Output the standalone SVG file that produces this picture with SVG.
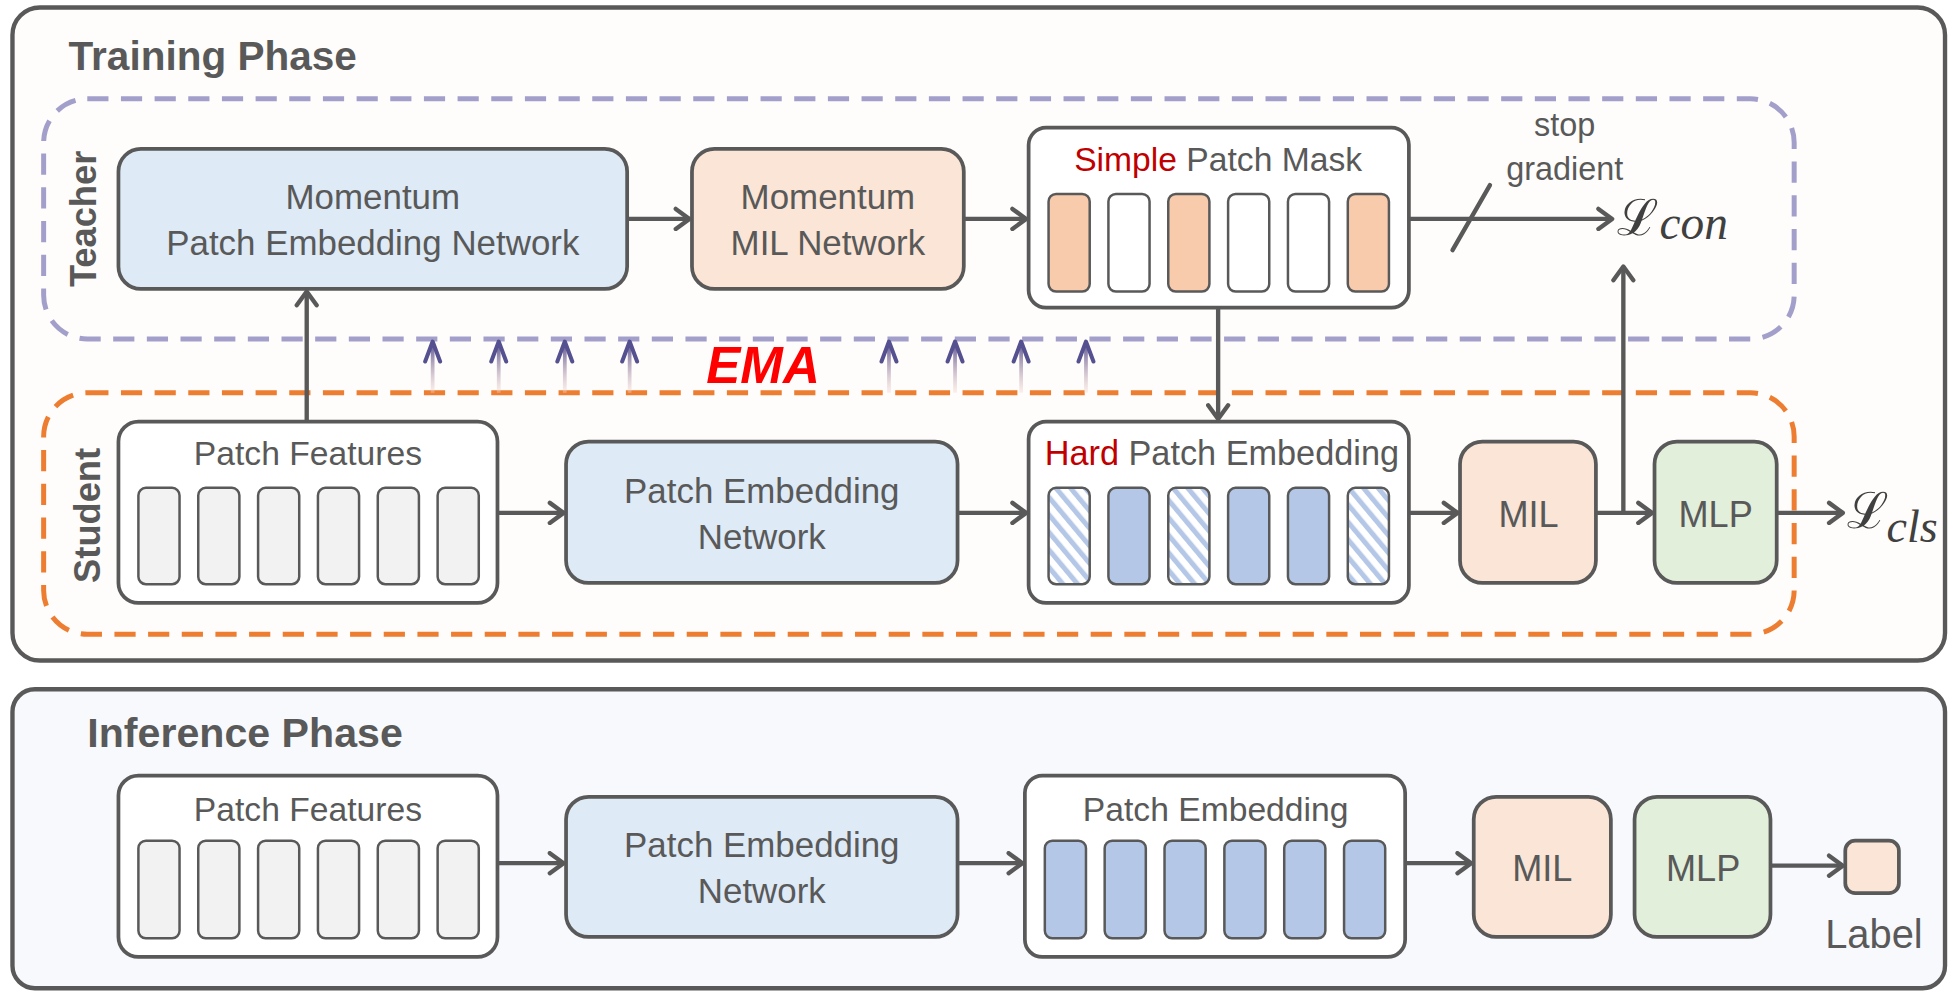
<svg xmlns="http://www.w3.org/2000/svg" width="1955" height="992" viewBox="0 0 1955 992">
<defs>
<style>
.t{font-family:"Liberation Sans",Arial,sans-serif;fill:#595959;}
.h{font-family:"Liberation Sans",Arial,sans-serif;fill:#595959;font-weight:bold;}
.n{stroke:#595959;stroke-width:3;}
.bar{stroke:#595959;stroke-width:2;}
.c{stroke:#595959;stroke-width:3.5;fill:none;}
.m{font-family:"DejaVu Serif","Liberation Serif",serif;fill:#404040;}
.mi{font-family:"Liberation Serif","DejaVu Serif",serif;font-style:italic;fill:#404040;}
.ema{stroke:url(#emaGrad);stroke-width:3;fill:none;}
.emah{stroke:#55508f;stroke-width:3.2;fill:none;stroke-linecap:round;stroke-linejoin:round;}
</style>
<marker id="arr" markerUnits="userSpaceOnUse" markerWidth="20" markerHeight="20" viewBox="0 0 20 20" refX="17" refY="10" orient="auto">
<path d="M6,2 L17,10 L6,18" fill="none" stroke="#595959" stroke-width="3.5" stroke-linecap="round" stroke-linejoin="round"/>
</marker>
<linearGradient id="emaGrad" gradientUnits="userSpaceOnUse" x1="0" y1="272" x2="0" y2="314">
<stop offset="0" stop-color="#4f4a8c"/>
<stop offset="1" stop-color="#f6d8d0" stop-opacity="0.4"/>
</linearGradient>
<pattern id="hatch" patternUnits="userSpaceOnUse" width="9" height="9" patternTransform="rotate(-40)">
<rect width="9" height="9" fill="#ffffff"/>
<rect width="4" height="9" fill="#b4c7e7"/>
</pattern>
</defs>
<g transform="scale(1.24681 1.25095)">
<g id="training-phase">
<rect x="10" y="6" width="1550" height="522" rx="22" fill="#fefdfb" stroke="#595959" stroke-width="3.5"/>
<text class="h" x="55" y="56" font-size="32.5">Training Phase</text>
</g>
<g id="teacher-group">
<rect x="35" y="79" width="1404" height="192" rx="35" fill="none" stroke="#a39fcb" stroke-width="4" stroke-dasharray="17 10"/>
<text class="h" font-size="29" text-anchor="middle" transform="translate(77,175) rotate(-90)">Teacher</text>
</g>
<g id="student-group">
<rect x="35" y="314" width="1404" height="193" rx="35" fill="none" stroke="#ed7d31" stroke-width="4" stroke-dasharray="17 10"/>
<text class="h" font-size="29" text-anchor="middle" transform="translate(80,412) rotate(-90)">Student</text>
</g>
<g id="inference-phase">
<rect x="10" y="551" width="1550" height="239" rx="18" fill="#f8f9fd" stroke="#595959" stroke-width="3.5"/>
<text class="h" x="70" y="597" font-size="33">Inference Phase</text>
</g>

<g id="momentum-patch-embedding">
<rect class="n" x="95" y="119" width="408" height="112" rx="18" fill="#deeaf6"/>
<text class="t" x="299" y="167" font-size="28" text-anchor="middle">Momentum</text>
<text class="t" x="299" y="204" font-size="28" text-anchor="middle">Patch Embedding Network</text>
</g>
<g id="momentum-mil">
<rect class="n" x="555" y="119" width="218" height="112" rx="18" fill="#fbe5d6"/>
<text class="t" x="664" y="167" font-size="28" text-anchor="middle">Momentum</text>
<text class="t" x="664" y="204" font-size="28" text-anchor="middle">MIL Network</text>
</g>
<g id="simple-patch-mask">
<rect class="n" x="825" y="102" width="305" height="144" rx="14" fill="#ffffff"/>
<text class="t" x="977" y="137" font-size="27" text-anchor="middle"><tspan fill="#c00000">Simple</tspan> Patch Mask</text>
<rect class="bar" x="841" y="155" width="33" height="78" rx="6" fill="#f8cbad"/>
<rect class="bar" x="889" y="155" width="33" height="78" rx="6" fill="#ffffff"/>
<rect class="bar" x="937" y="155" width="33" height="78" rx="6" fill="#f8cbad"/>
<rect class="bar" x="985" y="155" width="33" height="78" rx="6" fill="#ffffff"/>
<rect class="bar" x="1033" y="155" width="33" height="78" rx="6" fill="#ffffff"/>
<rect class="bar" x="1081" y="155" width="33" height="78" rx="6" fill="#f8cbad"/>
</g>
<g id="loss-con">
<text class="t" x="1255" y="109" font-size="26" text-anchor="middle">stop</text>
<text class="t" x="1255" y="144" font-size="26" text-anchor="middle">gradient</text>
<text class="m" x="1297" y="188" font-size="40">ℒ</text>
<text class="mi" x="1331" y="191" font-size="38">con</text>
</g>

<g id="patch-features-train">
<rect class="n" x="95" y="337" width="304" height="145" rx="16" fill="#ffffff"/>
<text class="t" x="247" y="372" font-size="27" text-anchor="middle">Patch Features</text>
<rect class="bar" x="111" y="390" width="33" height="77" rx="6" fill="#f2f2f2"/>
<rect class="bar" x="159" y="390" width="33" height="77" rx="6" fill="#f2f2f2"/>
<rect class="bar" x="207" y="390" width="33" height="77" rx="6" fill="#f2f2f2"/>
<rect class="bar" x="255" y="390" width="33" height="77" rx="6" fill="#f2f2f2"/>
<rect class="bar" x="303" y="390" width="33" height="77" rx="6" fill="#f2f2f2"/>
<rect class="bar" x="351" y="390" width="33" height="77" rx="6" fill="#f2f2f2"/>
</g>
<g id="patch-embedding-net-train">
<rect class="n" x="454" y="353" width="314" height="113" rx="18" fill="#deeaf6"/>
<text class="t" x="611" y="402" font-size="28" text-anchor="middle">Patch Embedding</text>
<text class="t" x="611" y="439" font-size="28" text-anchor="middle">Network</text>
</g>
<g id="hard-patch-embedding">
<rect class="n" x="825" y="337" width="305" height="145" rx="14" fill="#ffffff"/>
<text class="t" x="980" y="372" font-size="27.5" text-anchor="middle"><tspan fill="#c00000">Hard</tspan> Patch Embedding</text>
<rect class="bar" x="841" y="390" width="33" height="77" rx="6" fill="url(#hatch)"/>
<rect class="bar" x="889" y="390" width="33" height="77" rx="6" fill="#b4c7e7"/>
<rect class="bar" x="937" y="390" width="33" height="77" rx="6" fill="url(#hatch)"/>
<rect class="bar" x="985" y="390" width="33" height="77" rx="6" fill="#b4c7e7"/>
<rect class="bar" x="1033" y="390" width="33" height="77" rx="6" fill="#b4c7e7"/>
<rect class="bar" x="1081" y="390" width="33" height="77" rx="6" fill="url(#hatch)"/>
</g>
<g id="mil-train">
<rect class="n" x="1171" y="353" width="109" height="113" rx="18" fill="#fbe5d6"/>
<text class="t" x="1226" y="421" font-size="29" text-anchor="middle">MIL</text>
</g>
<g id="mlp-train">
<rect class="n" x="1327" y="353" width="98" height="113" rx="18" fill="#e2efda"/>
<text class="t" x="1376" y="421" font-size="29" text-anchor="middle">MLP</text>
</g>
<g id="loss-cls">
<text class="m" x="1481" y="422" font-size="40">ℒ</text>
<text class="mi" x="1513" y="433" font-size="37">cls</text>
</g>
<g id="ema-label">
<text x="612" y="306" font-family="'Liberation Sans',Arial,sans-serif" font-weight="bold" font-style="italic" font-size="41" fill="#ff0000" text-anchor="middle">EMA</text>
</g>

<g id="patch-features-inf">
<rect class="n" x="95" y="620" width="304" height="145" rx="16" fill="#ffffff"/>
<text class="t" x="247" y="656" font-size="27" text-anchor="middle">Patch Features</text>
<rect class="bar" x="111" y="672" width="33" height="78" rx="6" fill="#f2f2f2"/>
<rect class="bar" x="159" y="672" width="33" height="78" rx="6" fill="#f2f2f2"/>
<rect class="bar" x="207" y="672" width="33" height="78" rx="6" fill="#f2f2f2"/>
<rect class="bar" x="255" y="672" width="33" height="78" rx="6" fill="#f2f2f2"/>
<rect class="bar" x="303" y="672" width="33" height="78" rx="6" fill="#f2f2f2"/>
<rect class="bar" x="351" y="672" width="33" height="78" rx="6" fill="#f2f2f2"/>
</g>
<g id="patch-embedding-net-inf">
<rect class="n" x="454" y="637" width="314" height="112" rx="18" fill="#deeaf6"/>
<text class="t" x="611" y="685" font-size="28" text-anchor="middle">Patch Embedding</text>
<text class="t" x="611" y="722" font-size="28" text-anchor="middle">Network</text>
</g>
<g id="patch-embedding-inf">
<rect class="n" x="822" y="620" width="305" height="145" rx="14" fill="#ffffff"/>
<text class="t" x="975" y="656" font-size="27" text-anchor="middle">Patch Embedding</text>
<rect class="bar" x="838" y="672" width="33" height="78" rx="6" fill="#b4c7e7"/>
<rect class="bar" x="886" y="672" width="33" height="78" rx="6" fill="#b4c7e7"/>
<rect class="bar" x="934" y="672" width="33" height="78" rx="6" fill="#b4c7e7"/>
<rect class="bar" x="982" y="672" width="33" height="78" rx="6" fill="#b4c7e7"/>
<rect class="bar" x="1030" y="672" width="33" height="78" rx="6" fill="#b4c7e7"/>
<rect class="bar" x="1078" y="672" width="33" height="78" rx="6" fill="#b4c7e7"/>
</g>
<g id="mil-inf">
<rect class="n" x="1182" y="637" width="110" height="112" rx="18" fill="#fbe5d6"/>
<text class="t" x="1237" y="704" font-size="29" text-anchor="middle">MIL</text>
</g>
<g id="mlp-inf">
<rect class="n" x="1311" y="637" width="109" height="112" rx="18" fill="#e2efda"/>
<text class="t" x="1366" y="704" font-size="29" text-anchor="middle">MLP</text>
</g>
<g id="label-inf">
<rect class="n" x="1480" y="672" width="43" height="42" rx="8" fill="#fbe5d6"/>
<text class="t" x="1503" y="758" font-size="32" text-anchor="middle">Label</text>
</g>

<g id="connectors">
<line class="c" x1="503" y1="175" x2="553" y2="175" marker-end="url(#arr)"/>
<line class="c" x1="773" y1="175" x2="823" y2="175" marker-end="url(#arr)"/>
<line class="c" x1="1130" y1="175" x2="1293" y2="175" marker-end="url(#arr)"/>
<line class="c" x1="1165" y1="200" x2="1195" y2="148" stroke-linecap="round"/>
<line class="c" x1="977" y1="246" x2="977" y2="335" marker-end="url(#arr)"/>
<line class="c" x1="246" y1="337" x2="246" y2="233" marker-end="url(#arr)"/>
<line class="c" x1="399" y1="410" x2="452" y2="410" marker-end="url(#arr)"/>
<line class="c" x1="768" y1="410" x2="823" y2="410" marker-end="url(#arr)"/>
<line class="c" x1="1130" y1="410" x2="1169" y2="410" marker-end="url(#arr)"/>
<line class="c" x1="1280" y1="410" x2="1325" y2="410" marker-end="url(#arr)"/>
<line class="c" x1="1302" y1="410" x2="1302" y2="213" marker-end="url(#arr)"/>
<line class="c" x1="1425" y1="410" x2="1478" y2="410" marker-end="url(#arr)"/>
<line class="c" x1="399" y1="690" x2="452" y2="690" marker-end="url(#arr)"/>
<line class="c" x1="768" y1="690" x2="820" y2="690" marker-end="url(#arr)"/>
<line class="c" x1="1127" y1="690" x2="1180" y2="690" marker-end="url(#arr)"/>
<line class="c" x1="1420" y1="692" x2="1478" y2="692" marker-end="url(#arr)"/>
<g id="ema-arrows">
<path class="ema" d="M347,314 V274 M400,314 V274 M453,314 V274 M505,314 V274 M713,314 V274 M766,314 V274 M819,314 V274 M871,314 V274"/>
<path class="emah" d="M341,289 L347,273 L353,289 M394,289 L400,273 L406,289 M447,289 L453,273 L459,289 M499,289 L505,273 L511,289 M707,289 L713,273 L719,289 M760,289 L766,273 L772,289 M813,289 L819,273 L825,289 M865,289 L871,273 L877,289"/>
</g>
</g>
</g>
</svg>
